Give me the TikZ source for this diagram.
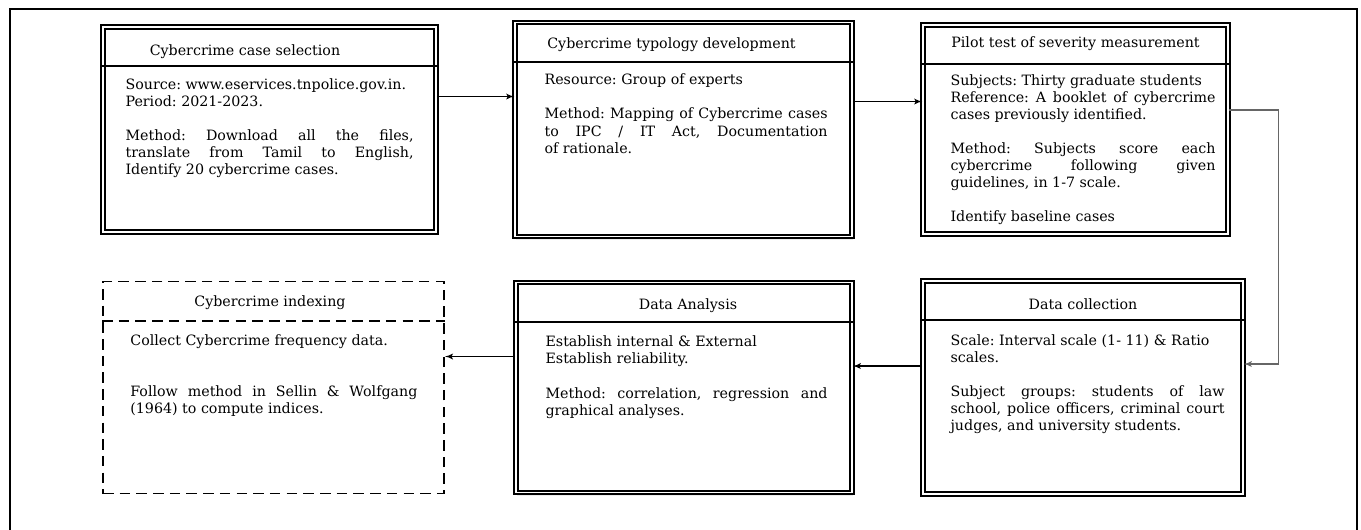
\documentclass[tikz,border=0pt]{standalone}
\usepackage{fontspec}
\setmainfont{DejaVu Serif}
\usepackage{tikz}
\usetikzlibrary{arrows,positioning,shadows}
\frenchspacing

\begin{document}
\begin{tikzpicture}[>=latex', node distance=8cm,
  every node/.style={font=\fontsize{8.1}{9.7}\selectfont}]
\useasboundingbox (0,0) rectangle (27.22,-10.58);

% Define block styles
\tikzstyle{stage} = [rectangle, draw, double, double distance=1.1pt, line width=0.9pt,
    fill=white, drop shadow={shadow xshift=0.6pt, shadow yshift=-1.8pt, fill=black!15}]
\tikzstyle{open stage} = [rectangle, draw, dash pattern=on 6pt off 3.5pt, line width=1.1pt]
\tikzstyle{title} = [inner sep=0pt]
\tikzstyle{body} = [anchor=north west, inner sep=0pt, align=justify]
\tikzstyle{rule} = [draw, line width=1pt]
\tikzstyle{line} = [draw, -latex', line width=0.6pt]

% outer frame
\draw[line width=1.1pt] (0.2,-10.7) -- (0.2,-0.18) -- (27.14,-0.18) -- (27.14,-10.7);

% stages
\node[stage, minimum width=6.66cm, minimum height=4.10cm] (select) at (5.39,-2.59) {};
\node[stage, minimum width=6.74cm, minimum height=4.28cm, right of=select, node distance=8.28cm] (typology) {};
\node[stage, minimum width=6.10cm, minimum height=4.18cm, right of=typology, node distance=7.84cm] (pilot) {};
\node[stage, minimum width=6.40cm, minimum height=4.26cm, below of=pilot, node distance=5.16cm, xshift=0.15cm] (collect) {};
\node[stage, minimum width=6.72cm, minimum height=4.20cm, left of=collect, node distance=7.98cm] (analysis) {};
\node[open stage, minimum width=6.82cm, minimum height=4.24cm, left of=analysis, node distance=8.21cm] (indexing) {};

% header rules
\foreach \s in {select,typology,pilot,collect,analysis}
  \draw[rule] ([yshift=-0.8cm]\s.north west) -- ([yshift=-0.8cm]\s.north east);
\draw[line width=1.1pt, dash pattern=on 6pt off 3.5pt] ([yshift=-0.8cm]indexing.north west) -- ([yshift=-0.8cm]indexing.north east);

% titles
\node[title] (select title) at ([xshift=-0.49cm, yshift=-0.5cm]select.north) {Cybercrime case selection};
\node[title] (typology title) at ([xshift=-0.24cm, yshift=-0.46cm]typology.north) {Cybercrime typology development};
\node[title] (pilot title) at ([yshift=-0.38cm]pilot.north) {Pilot test of severity measurement};
\node[title] (collect title) at ([yshift=-0.47cm]collect.north) {Data collection};
\node[title] (analysis title) at ([xshift=0.08cm, yshift=-0.47cm]analysis.north) {Data Analysis};
\node[title] (indexing title) at ([xshift=-0.07cm, yshift=-0.44cm]indexing.north) {Cybercrime indexing};

% contents
\node[body, text width=5.76cm] (select text) at ([xshift=0.46cm, yshift=-1.04cm]select.north west)
  {Source: www.eservices.tnpolice.gov.in.\\ Period: 2021-2023.\\[9.7pt]
   Method: Download all the files,\linebreak translate from Tamil to English,\linebreak Identify 20 cybercrime cases.};
\node[body, text width=5.66cm] (typology text) at ([xshift=0.6cm, yshift=-1.04cm]typology.north west)
  {Resource: Group of experts\\[9.7pt]
   Method: Mapping of Cybercrime cases\linebreak to IPC / IT Act, Documentation\linebreak of rationale.};
\node[body, text width=5.3cm] (pilot text) at ([xshift=0.56cm, yshift=-1.0cm]pilot.north west)
  {Subjects: Thirty graduate students\\ Reference: A booklet of cybercrime\linebreak cases previously identified.\\[9.7pt]
   Method: Subjects score each\linebreak cybercrime following given\linebreak guidelines, in 1-7 scale.\\[9.7pt]
   Identify baseline cases};
\node[body, text width=5.48cm] (collect text) at ([xshift=0.56cm, yshift=-1.08cm]collect.north west)
  {Scale: Interval scale (1- 11) \& Ratio\\ scales.\\[9.7pt]
   Subject groups: students of law\linebreak school, police officers, criminal court\linebreak judges, and university students.};
\node[body, text width=5.64cm] (analysis text) at ([xshift=0.6cm, yshift=-1.08cm]analysis.north west)
  {Establish internal \& External\\ Establish reliability.\\[9.7pt]
   Method: correlation, regression and\linebreak graphical analyses.};
\node[body, text width=5.74cm] (indexing text) at ([xshift=0.56cm, yshift=-1.08cm]indexing.north west)
  {Collect Cybercrime frequency data.\\[19.4pt]
   Follow method in Sellin \& Wolfgang\linebreak (1964) to compute indices.};

% connectors
\path[line] ([yshift=0.66cm]select.east) -- ([yshift=0.66cm]select.east -| typology.west);
\path[line] ([yshift=0.56cm]typology.east) -- ([yshift=0.56cm]typology.east -| pilot.west);
\path[line, draw=gray!80!black] ([yshift=0.39cm]pilot.east) -- ++(0.99,0) |- ([yshift=0.47cm]collect.east);
\path[line] ([yshift=0.43cm]collect.west) -- ([yshift=0.43cm]collect.west -| analysis.east);
\path[line] ([yshift=0.62cm]analysis.west) -- ([yshift=0.62cm]analysis.west -| indexing.east);

\end{tikzpicture}
\end{document}
